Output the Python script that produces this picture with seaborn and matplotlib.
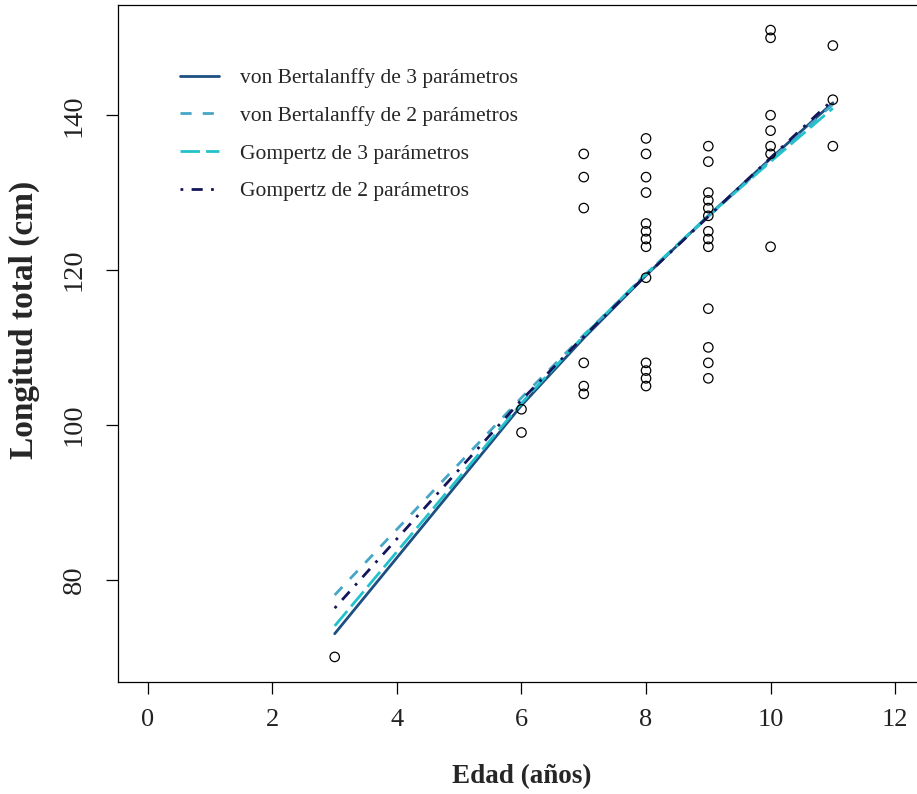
import matplotlib
matplotlib.use("Agg")
import matplotlib.pyplot as plt
import seaborn as sns
import pandas as pd

# Observed total length (cm) by age (years)
age_obs = [3,
           6, 6,
           7, 7, 7, 7, 7, 7,
           8, 8, 8, 8, 8, 8, 8, 8, 8, 8, 8, 8, 8,
           9, 9, 9, 9, 9, 9, 9, 9, 9, 9, 9, 9, 9,
           10, 10, 10, 10, 10, 10, 10,
           11, 11, 11]
length_obs = [70,
              102, 99,
              135, 132, 128, 108, 105, 104,
              137, 135, 132, 130, 126, 125, 124, 123, 119, 108, 107, 106, 105,
              136, 134, 130, 129, 128, 127, 125, 124, 123, 115, 110, 108, 106,
              151, 150, 140, 138, 136, 135, 123,
              149, 142, 136]

# Fitted lengths at the observed ages for each growth model
age_fit = [3, 6, 7, 8, 9, 10, 11]
vb3_fit = [73.0, 102.5, 111.2, 119.3, 127.0, 134.4, 141.6]
vb2_fit = [78.0, 103.5, 111.6, 119.4, 126.9, 134.2, 141.4]
gz3_fit = [74.0, 102.8, 111.5, 119.5, 127.0, 134.0, 140.9]
gz2_fit = [76.3, 103.2, 111.4, 119.3, 126.9, 134.5, 142.0]

model_labels = ["von Bertalanffy de 3 parámetros",
                "von Bertalanffy de 2 parámetros",
                "Gompertz de 3 parámetros",
                "Gompertz de 2 parámetros"]
model_colors = ["#1d4f80", "#45a6c6", "#22c2cc", "#15155c"]
model_styles = ["-", (0, (4, 4)), (0, (7, 2.2)), (0, (1, 3, 4, 3))]

sns.set_theme(style="white")
plt.rcParams["font.family"] = ["Liberation Serif", "DejaVu Serif"]

fig = plt.figure(figsize=(9.17, 7.94), dpi=100)
W, H = 917, 794
ax = fig.add_axes([118 / W, 1 - 682 / H, (925 - 118) / W, (682 - 5) / H])

obs = pd.DataFrame({"Edad": age_obs, "Longitud": length_obs})
sns.scatterplot(data=obs, x="Edad", y="Longitud", ax=ax, marker="o",
                s=46, facecolor="none", edgecolor="black", linewidth=0.9,
                zorder=3)

for vals, lab, col, ls in zip([vb3_fit, vb2_fit, gz3_fit, gz2_fit],
                              model_labels, model_colors, model_styles):
    d = pd.DataFrame({"Edad": age_fit, "Longitud": vals})
    sns.lineplot(data=d, x="Edad", y="Longitud", ax=ax, color=col,
                 linestyle=ls, linewidth=2.0, label=lab, zorder=2)

ax.set_xlim(-0.48, 12.48)
lo, hi = min(length_obs), max(length_obs)
pad = 0.04 * (hi - lo)
ax.set_ylim(lo - pad, hi + pad)

ax.set_xticks([0, 2, 4, 6, 8, 10, 12])
ax.set_yticks([80, 100, 120, 140])
ax.tick_params(axis="both", direction="out", length=8.6, width=0.9,
               color="black", labelcolor="#222222", bottom=True, left=True)
ax.tick_params(axis="x", pad=11, labelsize=19)
ax.tick_params(axis="y", pad=14, labelsize=20.5)
for t in ax.get_yticklabels():
    t.set_rotation(90)
    t.set_va("center")

for sp in ax.spines.values():
    sp.set_color("black")
    sp.set_linewidth(0.9)

ax.set_xlabel("Edad (años)", fontsize=19.5, fontweight="bold", labelpad=24)
ax.set_ylabel("Longitud total (cm)", fontsize=24, fontweight="bold")
ax.yaxis.set_label_coords((40 - 118) / 807, (682 - 320) / 677)

ax.legend(loc="upper left", bbox_to_anchor=(180 / W, 1 - 68 / H),
          bbox_transform=fig.transFigure, frameon=False, fontsize=15.5,
          handlelength=1.8, handletextpad=1.0, labelspacing=0.82,
          borderpad=0, borderaxespad=0)

fig.savefig("out.png", dpi=100)
